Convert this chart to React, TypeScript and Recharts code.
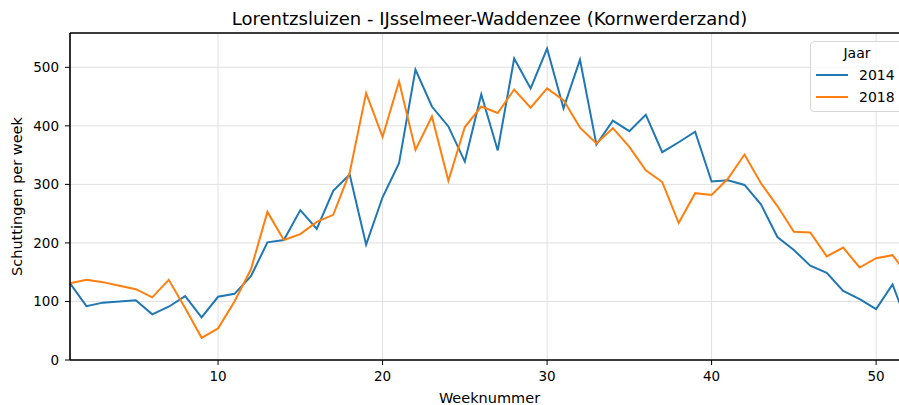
import { CartesianGrid, Line, LineChart, ReferenceLine, XAxis, YAxis } from "recharts";

const weeks = Array.from({ length: 52 }, (_, i) => i + 1);

const schuttingen2014 = [
  131, 92, 98, 100, 102, 78, 91, 109, 73, 108,
  113, 143, 201, 205, 256, 224, 289, 317, 197, 278,
  336, 496, 433, 399, 339, 454, 358, 515, 464, 532,
  430, 513, 368, 409, 391, 419, 355, 372, 390, 305,
  307, 299, 266, 210, 188, 161, 149, 118, 104, 87,
  129, 55,
];

const schuttingen2018 = [
  131, 137, 133, 127, 121, 107, 137, 89, 38, 54,
  100, 155, 253, 205, 215, 236, 248, 320, 456, 381,
  476, 359, 416, 306, 398, 433, 422, 462, 431, 464,
  444, 397, 370, 396, 364, 324, 304, 234, 285, 282,
  310, 351, 302, 263, 219, 218, 177, 192, 158, 174,
  179, 142,
];

const xTicks = [10, 20, 30, 40, 50];
const yTicks = [0, 100, 200, 300, 400, 500];
const yMax = 558.6;

const series = [
  { key: "y2014", name: "2014", color: "#1f77b4" },
  { key: "y2018", name: "2018", color: "#ff7f0e" },
];

const data = weeks.map((week, i) => ({
  week,
  y2014: schuttingen2014[i],
  y2018: schuttingen2018[i],
}));

const font = "'DejaVu Sans', sans-serif";

function JaarLegend() {
  return (
    <div
      style={{
        position: "absolute",
        left: 810,
        top: 41,
        width: 94,
        height: 71,
        boxSizing: "border-box",
        border: "1px solid #d6d6d6",
        borderRadius: 4,
        background: "rgba(255,255,255,0.8)",
        fontFamily: font,
        fontSize: 14,
        color: "#000",
      }}
    >
      <div style={{ position: "absolute", top: 3, left: 0, width: 92, textAlign: "center" }}>Jaar</div>
      {series.map((s, i) => (
        <div key={s.key} style={{ position: "absolute", top: 25 + i * 22, left: 5, display: "flex", alignItems: "center" }}>
          <span style={{ display: "inline-block", width: 32, height: 2, background: s.color }} />
          <span style={{ marginLeft: 11 }}>{s.name}</span>
        </div>
      ))}
    </div>
  );
}

export default function App() {
  return (
    <div style={{ position: "absolute", left: 0, top: 0, width: 899, height: 405, overflow: "hidden", background: "#fff" }}>
      <LineChart width={920} height={405} data={data} margin={{ top: 33, right: 11, bottom: 0, left: 0 }}>
        <text x={489.5} y={25} textAnchor="middle" fontFamily={font} fontSize={18} fill="#000">
          Lorentzsluizen - IJsselmeer-Waddenzee (Kornwerderzand)
        </text>
        <CartesianGrid stroke="#e0e0e0" strokeWidth={1} />
        <XAxis
          dataKey="week"
          type="number"
          domain={[1, 52]}
          ticks={xTicks}
          allowDataOverflow
          stroke="#000"
          axisLine={{ stroke: "#000", strokeWidth: 1.6 }}
          tickLine={{ stroke: "#000" }}
          tickSize={5}
          tickMargin={6}
          tick={{ fill: "#000", fontSize: 13.5, fontFamily: font }}
          height={45}
          label={{ value: "Weeknummer", position: "insideBottom", offset: 2, fill: "#000", fontSize: 14.5, fontFamily: font }}
        />
        <YAxis
          type="number"
          domain={[0, yMax]}
          ticks={yTicks}
          allowDataOverflow
          width={70}
          stroke="#000"
          axisLine={{ stroke: "#000", strokeWidth: 1.6 }}
          tickLine={{ stroke: "#000" }}
          tickSize={5}
          tickMargin={6}
          tick={{ fill: "#000", fontSize: 13.5, fontFamily: font }}
          label={{ value: "Schuttingen per week", angle: -90, position: "center", dx: -18, fill: "#000", fontSize: 14.5, fontFamily: font }}
        />
        <ReferenceLine y={yMax} stroke="#000" strokeWidth={1.6} />
        {series.map((s) => (
          <Line
            key={s.key}
            dataKey={s.key}
            name={s.name}
            stroke={s.color}
            strokeWidth={2}
            dot={false}
            activeDot={false}
            type="linear"
            isAnimationActive={false}
          />
        ))}
      </LineChart>
      <JaarLegend />
    </div>
  );
}
